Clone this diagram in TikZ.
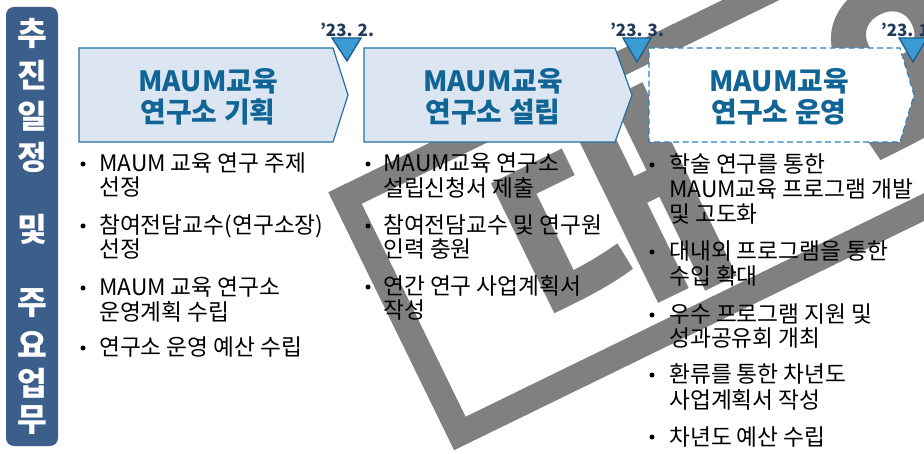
\documentclass[tikz,border=0pt]{standalone}
\usepackage{fontspec}
\setmainfont{Noto Sans CJK KR}
\definecolor{barblue}{RGB}{59,94,139}
\definecolor{titleblue}{RGB}{16,100,150}
\definecolor{boxfill}{RGB}{220,230,242}
\definecolor{boxline}{RGB}{36,113,163}
\definecolor{dashline}{RGB}{46,128,188}
\definecolor{trifill}{RGB}{58,155,213}
\definecolor{triline}{RGB}{31,92,138}
\definecolor{datecol}{RGB}{33,58,92}
\definecolor{wmgray}{RGB}{128,128,128}
\begin{document}
\begin{tikzpicture}[x=1bp,y=-1bp,
  bodytext/.style={anchor=base west, inner sep=0pt, font=\fontsize{22.8}{26}\selectfont, text=black},
  bul/.style={circle, fill=black, inner sep=0pt, minimum size=5bp},
  titletext/.style={anchor=base, inner sep=0pt, font=\bfseries\fontsize{28}{32}\selectfont, text=titleblue},
  sidechar/.style={inner sep=0pt, font=\bfseries\fontsize{32.5}{34}\selectfont, text=white},
  datelabel/.style={anchor=base, inner sep=0pt, font=\bfseries\fontsize{17}{20}\selectfont, text=datecol},
  stagebox/.style={fill=boxfill, draw=boxline, line width=1.2bp},
  stagedash/.style={fill=white, draw=dashline, line width=1.2bp, dash pattern=on 6bp off 3.5bp},
  marker/.style={fill=trifill, draw=triline, line width=1.3bp},
  wmframe/.style={draw=wmgray, line width=25bp},
  wmchar/.style={inner sep=0pt, transform shape, text=wmgray, font=\bfseries\fontsize{230}{230}\selectfont}
]
\useasboundingbox (0,0) rectangle (924,454);
\clip (0,0) rectangle (924,454);
\fill[white] (0,0) rectangle (924,454);

% watermark stamp
\begin{scope}[shift={(345,198)}, rotate=26]
  \draw[wmframe] (0,0) rectangle (900,262);
  \node[wmchar] (wm1) at (230,135) {대};
  \node[wmchar] (wm2) at (590,135) {외};
  \node[wmchar] (wm3) at (950,135) {비};
\end{scope}

% side bar
\fill[barblue, rounded corners=8bp] (6,7) rectangle (58,446);
\node[sidechar] (s1) at (32,33) {추};
\node[sidechar] (s2) at (32,75) {진};
\node[sidechar] (s3) at (32,116) {일};
\node[sidechar] (s4) at (32,157) {정};
\node[sidechar] (s5) at (32,229) {및};
\node[sidechar] (s6) at (32,303) {주};
\node[sidechar] (s7) at (32,344) {요};
\node[sidechar] (s8) at (32,383) {업};
\node[sidechar] (s9) at (32,420) {무};

% stage boxes
\draw[stagebox] (79,48) -- (333,48) -- (348,95) -- (333,142) -- (79,142) -- cycle;
\draw[stagebox] (364,48) -- (615,48) -- (632,95) -- (615,142) -- (364,142) -- cycle;
\draw[stagedash] (649,48) -- (900,48) -- (914,95) -- (900,142) -- (649,142) -- cycle;

\node[titletext] (t1a) at (208,92) {MAUM교육};
\node[titletext] (t1b) at (208,123) {연구소 기획};
\node[titletext] (t2a) at (493,92) {MAUM교육};
\node[titletext] (t2b) at (493,123) {연구소 설립};
\node[titletext] (t3a) at (779,92) {MAUM교육};
\node[titletext] (t3b) at (779,123) {연구소 운영};

% markers
\draw[marker] (332,38) -- (361,38) -- (347,61) -- cycle;
\draw[marker] (623,38) -- (651,38) -- (637,62) -- cycle;
\draw[marker] (899,38) -- (927,38) -- (913,62) -- cycle;
\node[datelabel] (d1) at (347,37) {’23. 2.};
\node[datelabel] (d2) at (637,37) {’23. 3.};
\node[datelabel] (d3) at (913,37) {’23. 12.};

% column 1
\node[bul] (b11) at (83,164) {};
\node[bodytext] (c11a) at (99,172) {MAUM 교육 연구 주제};
\node[bodytext] (c11b) at (99,196) {선정};
\node[bul] (b12) at (83,226) {};
\node[bodytext] (c12a) at (99,234) {참여전담교수(연구소장)};
\node[bodytext] (c12b) at (99,258) {선정};
\node[bul] (b13) at (83,288) {};
\node[bodytext] (c13a) at (99,296) {MAUM 교육 연구소};
\node[bodytext] (c13b) at (99,321) {운영계획 수립};
\node[bul] (b14) at (83,348) {};
\node[bodytext] (c14a) at (99,356) {연구소 운영 예산 수립};

% column 2
\node[bul] (b21) at (368,164) {};
\node[bodytext] (c21a) at (383,172) {MAUM교육 연구소};
\node[bodytext] (c21b) at (383,197) {설립신청서 제출};
\node[bul] (b22) at (368,226) {};
\node[bodytext] (c22a) at (383,234) {참여전담교수 및 연구원};
\node[bodytext] (c22b) at (383,258) {인력 충원};
\node[bul] (b23) at (368,287) {};
\node[bodytext] (c23a) at (383,295) {연간 연구 사업계획서};
\node[bodytext] (c23b) at (383,319) {작성};

% column 3
\node[bul] (b31) at (652,165) {};
\node[bodytext] (c31a) at (669,173) {학술 연구를 통한};
\node[bodytext] (c31b) at (669,198) {MAUM교육 프로그램 개발};
\node[bodytext] (c31c) at (669,223) {및 고도화};
\node[bul] (b32) at (652,252) {};
\node[bodytext] (c32a) at (669,260) {대내외 프로그램을 통한};
\node[bodytext] (c32b) at (669,285) {수입 확대};
\node[bul] (b33) at (652,315) {};
\node[bodytext] (c33a) at (669,323) {우수 프로그램 지원 및};
\node[bodytext] (c33b) at (669,347) {성과공유회 개최};
\node[bul] (b34) at (652,375) {};
\node[bodytext] (c34a) at (669,383) {환류를 통한 차년도};
\node[bodytext] (c34b) at (669,408) {사업계획서 작성};
\node[bul] (b35) at (652,437) {};
\node[bodytext] (c35a) at (669,445) {차년도 예산 수립};
\end{tikzpicture}
\end{document}
